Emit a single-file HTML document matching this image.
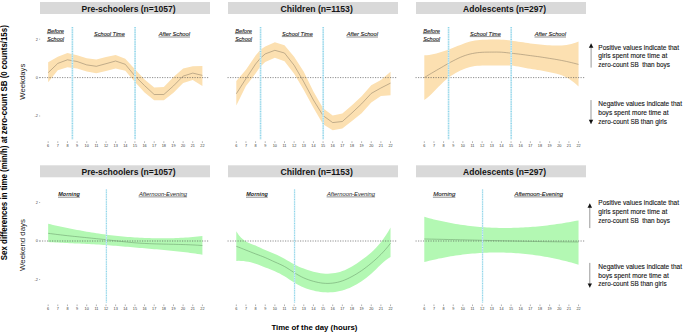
<!DOCTYPE html>
<html><head><meta charset="utf-8"><style>
html,body{margin:0;padding:0;background:#fff;}
body{width:685px;height:332px;overflow:hidden;position:relative;font-family:"Liberation Sans",sans-serif;}
svg{position:absolute;left:0;top:0;}
text{font-family:"Liberation Sans",sans-serif;}
.tk{font-size:3.8px;fill:#3a3a3a;text-anchor:middle;}
.yl{font-size:3.9px;fill:#444;text-anchor:end;}
.ttl{font-size:8.8px;font-weight:bold;fill:#151515;}
.it{font-size:6.0px;font-style:italic;fill:#1a1a1a;stroke:#1a1a1a;stroke-width:0.12;}
.itb{font-size:6px;font-weight:bold;font-style:italic;fill:#222;}
.itr{font-size:6px;font-style:italic;fill:#222;}
.an{font-size:6.8px;fill:#111;stroke:#111;stroke-width:0.1;}
.ax{font-size:7.8px;font-weight:bold;fill:#000;}
.lab{font-size:7.8px;fill:#222;}
</style></head><body>
<svg width="685" height="332" viewBox="0 0 685 332">
<rect x="40" y="2.0" width="170" height="12" fill="#d9d9d9"/>
<rect x="228" y="2.0" width="170" height="12" fill="#d9d9d9"/>
<rect x="416" y="2.0" width="170" height="12" fill="#d9d9d9"/>
<rect x="40" y="165.3" width="170" height="12" fill="#d9d9d9"/>
<rect x="228" y="165.3" width="170" height="12" fill="#d9d9d9"/>
<rect x="416" y="165.3" width="170" height="12" fill="#d9d9d9"/>
<polygon points="48.16,62.20 57.80,56.70 67.44,53.10 77.08,55.20 86.72,58.20 96.36,59.40 106.00,57.00 115.64,55.00 125.28,58.80 134.92,69.20 144.56,79.60 154.20,87.40 163.84,87.00 173.48,76.90 183.12,68.60 192.76,66.30 202.40,65.90 202.40,85.90 192.76,79.90 183.12,82.90 173.48,92.70 163.84,100.20 154.20,100.20 144.56,92.40 134.92,82.00 125.28,70.80 115.64,68.50 106.00,70.90 96.36,73.30 86.72,71.50 77.08,68.50 67.44,67.30 57.80,70.30 48.16,82.30" fill="#fce0b1"/>
<polygon points="236.30,81.10 245.94,69.70 255.58,55.50 260.40,49.70 265.22,46.40 274.86,42.30 284.50,45.30 294.14,56.80 303.78,71.80 313.42,91.50 323.06,108.30 332.70,115.60 342.34,113.40 351.98,105.30 361.62,96.30 371.26,85.30 380.90,79.90 390.54,71.70 390.54,95.20 380.90,96.10 371.26,102.40 361.62,113.20 351.98,121.10 342.34,128.50 332.70,130.30 323.06,124.20 313.42,107.80 303.78,90.00 294.14,73.80 284.50,61.30 274.86,57.80 265.22,62.10 260.40,66.60 255.58,73.40 245.94,85.90 236.30,105.40" fill="#fce0b1"/>
<polygon points="424.30,55.30 426.71,55.21 429.12,54.94 431.53,54.53 433.94,54.00 436.35,53.39 438.76,52.71 441.17,52.01 443.58,51.30 445.99,50.60 448.40,49.80 450.81,48.84 453.22,47.80 455.63,46.80 458.04,45.84 460.45,44.91 462.86,44.00 465.27,43.11 467.68,42.27 470.09,41.52 472.50,40.90 474.91,40.45 477.32,40.13 479.73,39.93 482.14,39.80 484.55,39.71 486.96,39.66 489.37,39.62 491.78,39.60 494.19,39.58 496.60,39.58 499.01,39.62 501.42,39.70 503.83,39.85 506.24,40.05 508.65,40.31 511.06,40.60 513.47,40.92 515.88,41.27 518.29,41.63 520.70,42.00 523.11,42.37 525.52,42.73 527.93,43.07 530.34,43.40 532.75,43.71 535.16,43.99 537.57,44.26 539.98,44.50 542.39,44.73 544.80,44.94 547.21,45.13 549.62,45.30 552.03,45.45 554.44,45.57 556.85,45.62 559.26,45.60 561.67,45.48 564.08,45.27 566.49,44.94 568.90,44.50 571.31,43.94 573.72,43.26 576.13,42.45 578.54,41.50 578.54,86.50 576.13,84.23 573.72,82.19 571.31,80.39 568.90,78.80 566.49,77.42 564.08,76.23 561.67,75.23 559.26,74.40 556.85,73.73 554.44,73.16 552.03,72.67 549.62,72.20 547.21,71.71 544.80,71.22 542.39,70.74 539.98,70.30 537.57,69.91 535.16,69.54 532.75,69.18 530.34,68.80 527.93,68.38 525.52,67.93 523.11,67.46 520.70,67.00 518.29,66.56 515.88,66.15 513.47,65.83 511.06,65.60 508.65,65.49 506.24,65.46 503.83,65.48 501.42,65.50 499.01,65.49 496.60,65.45 494.19,65.42 491.78,65.40 489.37,65.42 486.96,65.46 484.55,65.53 482.14,65.60 479.73,65.68 477.32,65.81 474.91,66.04 472.50,66.40 470.09,66.94 467.68,67.65 465.27,68.51 462.86,69.50 460.45,70.60 458.04,71.80 455.63,73.10 453.22,74.50 450.81,76.01 448.40,77.70 445.99,79.64 443.58,81.80 441.17,84.13 438.76,86.56 436.35,89.04 433.94,91.50 431.53,93.89 429.12,96.14 426.71,98.20 424.30,100.00" fill="#fce0b1"/>
<polygon points="48.16,223.80 50.57,224.35 52.98,224.89 55.39,225.42 57.80,225.95 60.21,226.47 62.62,226.98 65.03,227.49 67.44,227.99 69.85,228.48 72.26,228.96 74.67,229.44 77.08,229.90 79.49,230.35 81.90,230.80 84.31,231.23 86.72,231.65 89.13,232.07 91.54,232.47 93.95,232.85 96.36,233.23 98.77,233.59 101.18,233.94 103.59,234.28 106.00,234.60 108.41,234.91 110.82,235.20 113.23,235.48 115.64,235.75 118.05,236.00 120.46,236.24 122.87,236.47 125.28,236.68 127.69,236.88 130.10,237.06 132.51,237.24 134.92,237.40 137.33,237.55 139.74,237.69 142.15,237.81 144.56,237.92 146.97,238.02 149.38,238.10 151.79,238.17 154.20,238.22 156.61,238.27 159.02,238.29 161.43,238.30 163.84,238.30 166.25,238.28 168.66,238.25 171.07,238.20 173.48,238.13 175.89,238.05 178.30,237.95 180.71,237.83 183.12,237.70 185.53,237.55 187.94,237.38 190.35,237.20 192.76,237.00 195.17,236.78 197.58,236.54 199.99,236.28 202.40,236.00 202.40,254.70 199.99,254.32 197.58,253.95 195.17,253.60 192.76,253.26 190.35,252.93 187.94,252.61 185.53,252.31 183.12,252.02 180.71,251.74 178.30,251.46 175.89,251.20 173.48,250.95 171.07,250.70 168.66,250.46 166.25,250.23 163.84,250.00 161.43,249.78 159.02,249.56 156.61,249.35 154.20,249.14 151.79,248.93 149.38,248.72 146.97,248.52 144.56,248.32 142.15,248.11 139.74,247.91 137.33,247.71 134.92,247.50 132.51,247.29 130.10,247.08 127.69,246.87 125.28,246.66 122.87,246.45 120.46,246.24 118.05,246.04 115.64,245.84 113.23,245.65 110.82,245.46 108.41,245.27 106.00,245.10 103.59,244.93 101.18,244.78 98.77,244.62 96.36,244.48 93.95,244.34 91.54,244.21 89.13,244.08 86.72,243.96 84.31,243.84 81.90,243.72 79.49,243.61 77.08,243.50 74.67,243.39 72.26,243.28 69.85,243.17 67.44,243.06 65.03,242.95 62.62,242.84 60.21,242.73 57.80,242.61 55.39,242.49 52.98,242.36 50.57,242.23 48.16,242.10" fill="#b3f8b3"/>
<polygon points="236.30,231.30 238.71,234.90 241.12,237.71 243.53,239.86 245.94,241.50 248.35,242.75 250.76,243.76 253.17,244.67 255.58,245.60 257.99,246.67 260.40,247.82 262.81,248.99 265.22,250.10 267.63,251.09 270.04,252.01 272.45,252.93 274.86,253.90 277.27,254.98 279.68,256.17 282.09,257.45 284.50,258.80 286.91,260.20 289.32,261.61 291.73,262.99 294.14,264.30 296.55,265.51 298.96,266.63 301.37,267.65 303.78,268.60 306.19,269.48 308.60,270.29 311.01,271.03 313.42,271.70 315.83,272.30 318.24,272.81 320.65,273.22 323.06,273.50 325.47,273.64 327.88,273.65 330.29,273.53 332.70,273.30 335.11,272.96 337.52,272.49 339.93,271.88 342.34,271.10 344.75,270.14 347.16,269.02 349.57,267.77 351.98,266.40 354.39,264.95 356.80,263.41 359.21,261.79 361.62,260.10 364.03,258.33 366.44,256.47 368.85,254.50 371.26,252.40 373.67,250.16 376.08,247.73 378.49,245.09 380.90,242.20 383.31,239.02 385.72,235.52 388.13,231.66 390.54,227.40 390.54,256.90 388.13,258.39 385.72,260.20 383.31,262.26 380.90,264.50 378.49,266.85 376.08,269.23 373.67,271.57 371.26,273.80 368.85,275.86 366.44,277.77 364.03,279.54 361.62,281.20 359.21,282.76 356.80,284.23 354.39,285.58 351.98,286.80 349.57,287.89 347.16,288.84 344.75,289.68 342.34,290.40 339.93,291.01 337.52,291.52 335.11,291.92 332.70,292.20 330.29,292.37 327.88,292.42 325.47,292.36 323.06,292.20 320.65,291.93 318.24,291.57 315.83,291.13 313.42,290.60 311.01,290.00 308.60,289.31 306.19,288.52 303.78,287.60 301.37,286.55 298.96,285.36 296.55,284.04 294.14,282.60 291.73,281.05 289.32,279.44 286.91,277.83 284.50,276.30 282.09,274.89 279.68,273.59 277.27,272.40 274.86,271.30 272.45,270.28 270.04,269.30 267.63,268.35 265.22,267.40 262.81,266.43 260.40,265.47 257.99,264.55 255.58,263.70 253.17,262.96 250.76,262.33 248.35,261.81 245.94,261.40 243.53,261.10 241.12,260.92 238.71,260.85 236.30,260.90" fill="#b3f8b3"/>
<polygon points="424.30,216.80 426.71,217.48 429.12,218.14 431.53,218.77 433.94,219.39 436.35,219.98 438.76,220.55 441.17,221.09 443.58,221.61 445.99,222.11 448.40,222.59 450.81,223.05 453.22,223.49 455.63,223.90 458.04,224.30 460.45,224.67 462.86,225.02 465.27,225.35 467.68,225.66 470.09,225.95 472.50,226.22 474.91,226.47 477.32,226.70 479.73,226.91 482.14,227.10 484.55,227.27 486.96,227.42 489.37,227.55 491.78,227.67 494.19,227.76 496.60,227.84 499.01,227.89 501.42,227.93 503.83,227.95 506.24,227.96 508.65,227.94 511.06,227.91 513.47,227.86 515.88,227.79 518.29,227.70 520.70,227.60 523.11,227.48 525.52,227.34 527.93,227.19 530.34,227.02 532.75,226.83 535.16,226.63 537.57,226.41 539.98,226.18 542.39,225.93 544.80,225.66 547.21,225.38 549.62,225.09 552.03,224.78 554.44,224.45 556.85,224.11 559.26,223.75 561.67,223.38 564.08,223.00 566.49,222.60 568.90,222.19 571.31,221.76 573.72,221.32 576.13,220.87 578.54,220.40 578.54,264.70 576.13,263.98 573.72,263.29 571.31,262.61 568.90,261.96 566.49,261.33 564.08,260.72 561.67,260.14 559.26,259.57 556.85,259.03 554.44,258.51 552.03,258.01 549.62,257.54 547.21,257.08 544.80,256.65 542.39,256.24 539.98,255.84 537.57,255.48 535.16,255.13 532.75,254.80 530.34,254.50 527.93,254.22 525.52,253.96 523.11,253.72 520.70,253.50 518.29,253.30 515.88,253.13 513.47,252.97 511.06,252.84 508.65,252.73 506.24,252.64 503.83,252.57 501.42,252.52 499.01,252.50 496.60,252.49 494.19,252.51 491.78,252.54 489.37,252.60 486.96,252.68 484.55,252.78 482.14,252.90 479.73,253.04 477.32,253.20 474.91,253.39 472.50,253.59 470.09,253.82 467.68,254.06 465.27,254.33 462.86,254.62 460.45,254.92 458.04,255.25 455.63,255.60 453.22,255.97 450.81,256.36 448.40,256.77 445.99,257.20 443.58,257.65 441.17,258.13 438.76,258.62 436.35,259.13 433.94,259.66 431.53,260.22 429.12,260.79 426.71,261.39 424.30,262.00" fill="#b3f8b3"/>
<line x1="39.5" y1="77.6" x2="209.5" y2="77.6" stroke="#505050" stroke-width="0.65" stroke-dasharray="1.2 1.3"/>
<line x1="48.16" y1="141.29999999999998" x2="48.16" y2="142.9" stroke="#666" stroke-width="0.5"/>
<text x="48.16" y="146.8" class="tk">6</text>
<line x1="57.80" y1="141.29999999999998" x2="57.80" y2="142.9" stroke="#666" stroke-width="0.5"/>
<text x="57.80" y="146.8" class="tk">7</text>
<line x1="67.44" y1="141.29999999999998" x2="67.44" y2="142.9" stroke="#666" stroke-width="0.5"/>
<text x="67.44" y="146.8" class="tk">8</text>
<line x1="77.08" y1="141.29999999999998" x2="77.08" y2="142.9" stroke="#666" stroke-width="0.5"/>
<text x="77.08" y="146.8" class="tk">9</text>
<line x1="86.72" y1="141.29999999999998" x2="86.72" y2="142.9" stroke="#666" stroke-width="0.5"/>
<text x="86.72" y="146.8" class="tk">10</text>
<line x1="96.36" y1="141.29999999999998" x2="96.36" y2="142.9" stroke="#666" stroke-width="0.5"/>
<text x="96.36" y="146.8" class="tk">11</text>
<line x1="106.00" y1="141.29999999999998" x2="106.00" y2="142.9" stroke="#666" stroke-width="0.5"/>
<text x="106.00" y="146.8" class="tk">12</text>
<line x1="115.64" y1="141.29999999999998" x2="115.64" y2="142.9" stroke="#666" stroke-width="0.5"/>
<text x="115.64" y="146.8" class="tk">13</text>
<line x1="125.28" y1="141.29999999999998" x2="125.28" y2="142.9" stroke="#666" stroke-width="0.5"/>
<text x="125.28" y="146.8" class="tk">14</text>
<line x1="134.92" y1="141.29999999999998" x2="134.92" y2="142.9" stroke="#666" stroke-width="0.5"/>
<text x="134.92" y="146.8" class="tk">15</text>
<line x1="144.56" y1="141.29999999999998" x2="144.56" y2="142.9" stroke="#666" stroke-width="0.5"/>
<text x="144.56" y="146.8" class="tk">16</text>
<line x1="154.20" y1="141.29999999999998" x2="154.20" y2="142.9" stroke="#666" stroke-width="0.5"/>
<text x="154.20" y="146.8" class="tk">17</text>
<line x1="163.84" y1="141.29999999999998" x2="163.84" y2="142.9" stroke="#666" stroke-width="0.5"/>
<text x="163.84" y="146.8" class="tk">18</text>
<line x1="173.48" y1="141.29999999999998" x2="173.48" y2="142.9" stroke="#666" stroke-width="0.5"/>
<text x="173.48" y="146.8" class="tk">19</text>
<line x1="183.12" y1="141.29999999999998" x2="183.12" y2="142.9" stroke="#666" stroke-width="0.5"/>
<text x="183.12" y="146.8" class="tk">20</text>
<line x1="192.76" y1="141.29999999999998" x2="192.76" y2="142.9" stroke="#666" stroke-width="0.5"/>
<text x="192.76" y="146.8" class="tk">21</text>
<line x1="202.40" y1="141.29999999999998" x2="202.40" y2="142.9" stroke="#666" stroke-width="0.5"/>
<text x="202.40" y="146.8" class="tk">22</text>
<line x1="227.5" y1="77.6" x2="397.5" y2="77.6" stroke="#505050" stroke-width="0.65" stroke-dasharray="1.2 1.3"/>
<line x1="236.30" y1="141.29999999999998" x2="236.30" y2="142.9" stroke="#666" stroke-width="0.5"/>
<text x="236.30" y="146.8" class="tk">6</text>
<line x1="245.94" y1="141.29999999999998" x2="245.94" y2="142.9" stroke="#666" stroke-width="0.5"/>
<text x="245.94" y="146.8" class="tk">7</text>
<line x1="255.58" y1="141.29999999999998" x2="255.58" y2="142.9" stroke="#666" stroke-width="0.5"/>
<text x="255.58" y="146.8" class="tk">8</text>
<line x1="265.22" y1="141.29999999999998" x2="265.22" y2="142.9" stroke="#666" stroke-width="0.5"/>
<text x="265.22" y="146.8" class="tk">9</text>
<line x1="274.86" y1="141.29999999999998" x2="274.86" y2="142.9" stroke="#666" stroke-width="0.5"/>
<text x="274.86" y="146.8" class="tk">10</text>
<line x1="284.50" y1="141.29999999999998" x2="284.50" y2="142.9" stroke="#666" stroke-width="0.5"/>
<text x="284.50" y="146.8" class="tk">11</text>
<line x1="294.14" y1="141.29999999999998" x2="294.14" y2="142.9" stroke="#666" stroke-width="0.5"/>
<text x="294.14" y="146.8" class="tk">12</text>
<line x1="303.78" y1="141.29999999999998" x2="303.78" y2="142.9" stroke="#666" stroke-width="0.5"/>
<text x="303.78" y="146.8" class="tk">13</text>
<line x1="313.42" y1="141.29999999999998" x2="313.42" y2="142.9" stroke="#666" stroke-width="0.5"/>
<text x="313.42" y="146.8" class="tk">14</text>
<line x1="323.06" y1="141.29999999999998" x2="323.06" y2="142.9" stroke="#666" stroke-width="0.5"/>
<text x="323.06" y="146.8" class="tk">15</text>
<line x1="332.70" y1="141.29999999999998" x2="332.70" y2="142.9" stroke="#666" stroke-width="0.5"/>
<text x="332.70" y="146.8" class="tk">16</text>
<line x1="342.34" y1="141.29999999999998" x2="342.34" y2="142.9" stroke="#666" stroke-width="0.5"/>
<text x="342.34" y="146.8" class="tk">17</text>
<line x1="351.98" y1="141.29999999999998" x2="351.98" y2="142.9" stroke="#666" stroke-width="0.5"/>
<text x="351.98" y="146.8" class="tk">18</text>
<line x1="361.62" y1="141.29999999999998" x2="361.62" y2="142.9" stroke="#666" stroke-width="0.5"/>
<text x="361.62" y="146.8" class="tk">19</text>
<line x1="371.26" y1="141.29999999999998" x2="371.26" y2="142.9" stroke="#666" stroke-width="0.5"/>
<text x="371.26" y="146.8" class="tk">20</text>
<line x1="380.90" y1="141.29999999999998" x2="380.90" y2="142.9" stroke="#666" stroke-width="0.5"/>
<text x="380.90" y="146.8" class="tk">21</text>
<line x1="390.54" y1="141.29999999999998" x2="390.54" y2="142.9" stroke="#666" stroke-width="0.5"/>
<text x="390.54" y="146.8" class="tk">22</text>
<line x1="415.5" y1="77.6" x2="585.5" y2="77.6" stroke="#505050" stroke-width="0.65" stroke-dasharray="1.2 1.3"/>
<line x1="424.30" y1="141.29999999999998" x2="424.30" y2="142.9" stroke="#666" stroke-width="0.5"/>
<text x="424.30" y="146.8" class="tk">6</text>
<line x1="433.94" y1="141.29999999999998" x2="433.94" y2="142.9" stroke="#666" stroke-width="0.5"/>
<text x="433.94" y="146.8" class="tk">7</text>
<line x1="443.58" y1="141.29999999999998" x2="443.58" y2="142.9" stroke="#666" stroke-width="0.5"/>
<text x="443.58" y="146.8" class="tk">8</text>
<line x1="453.22" y1="141.29999999999998" x2="453.22" y2="142.9" stroke="#666" stroke-width="0.5"/>
<text x="453.22" y="146.8" class="tk">9</text>
<line x1="462.86" y1="141.29999999999998" x2="462.86" y2="142.9" stroke="#666" stroke-width="0.5"/>
<text x="462.86" y="146.8" class="tk">10</text>
<line x1="472.50" y1="141.29999999999998" x2="472.50" y2="142.9" stroke="#666" stroke-width="0.5"/>
<text x="472.50" y="146.8" class="tk">11</text>
<line x1="482.14" y1="141.29999999999998" x2="482.14" y2="142.9" stroke="#666" stroke-width="0.5"/>
<text x="482.14" y="146.8" class="tk">12</text>
<line x1="491.78" y1="141.29999999999998" x2="491.78" y2="142.9" stroke="#666" stroke-width="0.5"/>
<text x="491.78" y="146.8" class="tk">13</text>
<line x1="501.42" y1="141.29999999999998" x2="501.42" y2="142.9" stroke="#666" stroke-width="0.5"/>
<text x="501.42" y="146.8" class="tk">14</text>
<line x1="511.06" y1="141.29999999999998" x2="511.06" y2="142.9" stroke="#666" stroke-width="0.5"/>
<text x="511.06" y="146.8" class="tk">15</text>
<line x1="520.70" y1="141.29999999999998" x2="520.70" y2="142.9" stroke="#666" stroke-width="0.5"/>
<text x="520.70" y="146.8" class="tk">16</text>
<line x1="530.34" y1="141.29999999999998" x2="530.34" y2="142.9" stroke="#666" stroke-width="0.5"/>
<text x="530.34" y="146.8" class="tk">17</text>
<line x1="539.98" y1="141.29999999999998" x2="539.98" y2="142.9" stroke="#666" stroke-width="0.5"/>
<text x="539.98" y="146.8" class="tk">18</text>
<line x1="549.62" y1="141.29999999999998" x2="549.62" y2="142.9" stroke="#666" stroke-width="0.5"/>
<text x="549.62" y="146.8" class="tk">19</text>
<line x1="559.26" y1="141.29999999999998" x2="559.26" y2="142.9" stroke="#666" stroke-width="0.5"/>
<text x="559.26" y="146.8" class="tk">20</text>
<line x1="568.90" y1="141.29999999999998" x2="568.90" y2="142.9" stroke="#666" stroke-width="0.5"/>
<text x="568.90" y="146.8" class="tk">21</text>
<line x1="578.54" y1="141.29999999999998" x2="578.54" y2="142.9" stroke="#666" stroke-width="0.5"/>
<text x="578.54" y="146.8" class="tk">22</text>
<text x="38" y="40.50" class="yl">2</text>
<line x1="39" y1="39.20" x2="40.2" y2="39.20" stroke="#777" stroke-width="0.5"/>
<text x="38" y="78.90" class="yl">0</text>
<line x1="39" y1="77.60" x2="40.2" y2="77.60" stroke="#777" stroke-width="0.5"/>
<text x="38" y="117.30" class="yl">-2</text>
<line x1="39" y1="116.00" x2="40.2" y2="116.00" stroke="#777" stroke-width="0.5"/>
<line x1="39.5" y1="241.0" x2="209.5" y2="241.0" stroke="#505050" stroke-width="0.65" stroke-dasharray="1.2 1.3"/>
<line x1="48.16" y1="304.5" x2="48.16" y2="306.1" stroke="#666" stroke-width="0.5"/>
<text x="48.16" y="310.1" class="tk">6</text>
<line x1="57.80" y1="304.5" x2="57.80" y2="306.1" stroke="#666" stroke-width="0.5"/>
<text x="57.80" y="310.1" class="tk">7</text>
<line x1="67.44" y1="304.5" x2="67.44" y2="306.1" stroke="#666" stroke-width="0.5"/>
<text x="67.44" y="310.1" class="tk">8</text>
<line x1="77.08" y1="304.5" x2="77.08" y2="306.1" stroke="#666" stroke-width="0.5"/>
<text x="77.08" y="310.1" class="tk">9</text>
<line x1="86.72" y1="304.5" x2="86.72" y2="306.1" stroke="#666" stroke-width="0.5"/>
<text x="86.72" y="310.1" class="tk">10</text>
<line x1="96.36" y1="304.5" x2="96.36" y2="306.1" stroke="#666" stroke-width="0.5"/>
<text x="96.36" y="310.1" class="tk">11</text>
<line x1="106.00" y1="304.5" x2="106.00" y2="306.1" stroke="#666" stroke-width="0.5"/>
<text x="106.00" y="310.1" class="tk">12</text>
<line x1="115.64" y1="304.5" x2="115.64" y2="306.1" stroke="#666" stroke-width="0.5"/>
<text x="115.64" y="310.1" class="tk">13</text>
<line x1="125.28" y1="304.5" x2="125.28" y2="306.1" stroke="#666" stroke-width="0.5"/>
<text x="125.28" y="310.1" class="tk">14</text>
<line x1="134.92" y1="304.5" x2="134.92" y2="306.1" stroke="#666" stroke-width="0.5"/>
<text x="134.92" y="310.1" class="tk">15</text>
<line x1="144.56" y1="304.5" x2="144.56" y2="306.1" stroke="#666" stroke-width="0.5"/>
<text x="144.56" y="310.1" class="tk">16</text>
<line x1="154.20" y1="304.5" x2="154.20" y2="306.1" stroke="#666" stroke-width="0.5"/>
<text x="154.20" y="310.1" class="tk">17</text>
<line x1="163.84" y1="304.5" x2="163.84" y2="306.1" stroke="#666" stroke-width="0.5"/>
<text x="163.84" y="310.1" class="tk">18</text>
<line x1="173.48" y1="304.5" x2="173.48" y2="306.1" stroke="#666" stroke-width="0.5"/>
<text x="173.48" y="310.1" class="tk">19</text>
<line x1="183.12" y1="304.5" x2="183.12" y2="306.1" stroke="#666" stroke-width="0.5"/>
<text x="183.12" y="310.1" class="tk">20</text>
<line x1="192.76" y1="304.5" x2="192.76" y2="306.1" stroke="#666" stroke-width="0.5"/>
<text x="192.76" y="310.1" class="tk">21</text>
<line x1="202.40" y1="304.5" x2="202.40" y2="306.1" stroke="#666" stroke-width="0.5"/>
<text x="202.40" y="310.1" class="tk">22</text>
<line x1="227.5" y1="241.0" x2="397.5" y2="241.0" stroke="#505050" stroke-width="0.65" stroke-dasharray="1.2 1.3"/>
<line x1="236.30" y1="304.5" x2="236.30" y2="306.1" stroke="#666" stroke-width="0.5"/>
<text x="236.30" y="310.1" class="tk">6</text>
<line x1="245.94" y1="304.5" x2="245.94" y2="306.1" stroke="#666" stroke-width="0.5"/>
<text x="245.94" y="310.1" class="tk">7</text>
<line x1="255.58" y1="304.5" x2="255.58" y2="306.1" stroke="#666" stroke-width="0.5"/>
<text x="255.58" y="310.1" class="tk">8</text>
<line x1="265.22" y1="304.5" x2="265.22" y2="306.1" stroke="#666" stroke-width="0.5"/>
<text x="265.22" y="310.1" class="tk">9</text>
<line x1="274.86" y1="304.5" x2="274.86" y2="306.1" stroke="#666" stroke-width="0.5"/>
<text x="274.86" y="310.1" class="tk">10</text>
<line x1="284.50" y1="304.5" x2="284.50" y2="306.1" stroke="#666" stroke-width="0.5"/>
<text x="284.50" y="310.1" class="tk">11</text>
<line x1="294.14" y1="304.5" x2="294.14" y2="306.1" stroke="#666" stroke-width="0.5"/>
<text x="294.14" y="310.1" class="tk">12</text>
<line x1="303.78" y1="304.5" x2="303.78" y2="306.1" stroke="#666" stroke-width="0.5"/>
<text x="303.78" y="310.1" class="tk">13</text>
<line x1="313.42" y1="304.5" x2="313.42" y2="306.1" stroke="#666" stroke-width="0.5"/>
<text x="313.42" y="310.1" class="tk">14</text>
<line x1="323.06" y1="304.5" x2="323.06" y2="306.1" stroke="#666" stroke-width="0.5"/>
<text x="323.06" y="310.1" class="tk">15</text>
<line x1="332.70" y1="304.5" x2="332.70" y2="306.1" stroke="#666" stroke-width="0.5"/>
<text x="332.70" y="310.1" class="tk">16</text>
<line x1="342.34" y1="304.5" x2="342.34" y2="306.1" stroke="#666" stroke-width="0.5"/>
<text x="342.34" y="310.1" class="tk">17</text>
<line x1="351.98" y1="304.5" x2="351.98" y2="306.1" stroke="#666" stroke-width="0.5"/>
<text x="351.98" y="310.1" class="tk">18</text>
<line x1="361.62" y1="304.5" x2="361.62" y2="306.1" stroke="#666" stroke-width="0.5"/>
<text x="361.62" y="310.1" class="tk">19</text>
<line x1="371.26" y1="304.5" x2="371.26" y2="306.1" stroke="#666" stroke-width="0.5"/>
<text x="371.26" y="310.1" class="tk">20</text>
<line x1="380.90" y1="304.5" x2="380.90" y2="306.1" stroke="#666" stroke-width="0.5"/>
<text x="380.90" y="310.1" class="tk">21</text>
<line x1="390.54" y1="304.5" x2="390.54" y2="306.1" stroke="#666" stroke-width="0.5"/>
<text x="390.54" y="310.1" class="tk">22</text>
<line x1="415.5" y1="241.0" x2="585.5" y2="241.0" stroke="#505050" stroke-width="0.65" stroke-dasharray="1.2 1.3"/>
<line x1="424.30" y1="304.5" x2="424.30" y2="306.1" stroke="#666" stroke-width="0.5"/>
<text x="424.30" y="310.1" class="tk">6</text>
<line x1="433.94" y1="304.5" x2="433.94" y2="306.1" stroke="#666" stroke-width="0.5"/>
<text x="433.94" y="310.1" class="tk">7</text>
<line x1="443.58" y1="304.5" x2="443.58" y2="306.1" stroke="#666" stroke-width="0.5"/>
<text x="443.58" y="310.1" class="tk">8</text>
<line x1="453.22" y1="304.5" x2="453.22" y2="306.1" stroke="#666" stroke-width="0.5"/>
<text x="453.22" y="310.1" class="tk">9</text>
<line x1="462.86" y1="304.5" x2="462.86" y2="306.1" stroke="#666" stroke-width="0.5"/>
<text x="462.86" y="310.1" class="tk">10</text>
<line x1="472.50" y1="304.5" x2="472.50" y2="306.1" stroke="#666" stroke-width="0.5"/>
<text x="472.50" y="310.1" class="tk">11</text>
<line x1="482.14" y1="304.5" x2="482.14" y2="306.1" stroke="#666" stroke-width="0.5"/>
<text x="482.14" y="310.1" class="tk">12</text>
<line x1="491.78" y1="304.5" x2="491.78" y2="306.1" stroke="#666" stroke-width="0.5"/>
<text x="491.78" y="310.1" class="tk">13</text>
<line x1="501.42" y1="304.5" x2="501.42" y2="306.1" stroke="#666" stroke-width="0.5"/>
<text x="501.42" y="310.1" class="tk">14</text>
<line x1="511.06" y1="304.5" x2="511.06" y2="306.1" stroke="#666" stroke-width="0.5"/>
<text x="511.06" y="310.1" class="tk">15</text>
<line x1="520.70" y1="304.5" x2="520.70" y2="306.1" stroke="#666" stroke-width="0.5"/>
<text x="520.70" y="310.1" class="tk">16</text>
<line x1="530.34" y1="304.5" x2="530.34" y2="306.1" stroke="#666" stroke-width="0.5"/>
<text x="530.34" y="310.1" class="tk">17</text>
<line x1="539.98" y1="304.5" x2="539.98" y2="306.1" stroke="#666" stroke-width="0.5"/>
<text x="539.98" y="310.1" class="tk">18</text>
<line x1="549.62" y1="304.5" x2="549.62" y2="306.1" stroke="#666" stroke-width="0.5"/>
<text x="549.62" y="310.1" class="tk">19</text>
<line x1="559.26" y1="304.5" x2="559.26" y2="306.1" stroke="#666" stroke-width="0.5"/>
<text x="559.26" y="310.1" class="tk">20</text>
<line x1="568.90" y1="304.5" x2="568.90" y2="306.1" stroke="#666" stroke-width="0.5"/>
<text x="568.90" y="310.1" class="tk">21</text>
<line x1="578.54" y1="304.5" x2="578.54" y2="306.1" stroke="#666" stroke-width="0.5"/>
<text x="578.54" y="310.1" class="tk">22</text>
<text x="38" y="203.80" class="yl">2</text>
<line x1="39" y1="202.50" x2="40.2" y2="202.50" stroke="#777" stroke-width="0.5"/>
<text x="38" y="242.30" class="yl">0</text>
<line x1="39" y1="241.00" x2="40.2" y2="241.00" stroke="#777" stroke-width="0.5"/>
<text x="38" y="280.80" class="yl">-2</text>
<line x1="39" y1="279.50" x2="40.2" y2="279.50" stroke="#777" stroke-width="0.5"/>
<polyline points="48.16,72.70 57.80,63.40 67.44,59.80 77.08,61.50 86.72,64.90 96.36,66.30 106.00,63.70 115.64,61.00 125.28,64.30 134.92,76.00 144.56,85.60 154.20,94.50 163.84,94.50 173.48,85.90 183.12,76.10 192.76,73.10 202.40,75.40" fill="none" stroke="#8f8068" stroke-width="0.55"/>
<polyline points="236.30,93.80 245.94,78.70 255.58,64.00 260.40,58.20 265.22,53.90 274.86,50.30 284.50,53.00 294.14,65.30 303.78,81.90 313.42,100.00 323.06,115.60 332.70,122.60 342.34,121.50 351.98,112.90 361.62,103.80 371.26,93.40 380.90,88.00 390.54,83.10" fill="none" stroke="#8f8068" stroke-width="0.55"/>
<polyline points="424.30,77.60 426.71,76.11 429.12,74.65 431.53,73.21 433.94,71.80 436.35,70.40 438.76,69.00 441.17,67.61 443.58,66.20 445.99,64.79 448.40,63.40 450.81,62.07 453.22,60.80 455.63,59.57 458.04,58.39 460.45,57.29 462.86,56.30 465.27,55.43 467.68,54.67 470.09,54.03 472.50,53.50 474.91,53.07 477.32,52.73 479.73,52.47 482.14,52.30 484.55,52.20 486.96,52.14 489.37,52.12 491.78,52.10 494.19,52.08 496.60,52.07 499.01,52.10 501.42,52.20 503.83,52.38 506.24,52.63 508.65,52.91 511.06,53.20 513.47,53.48 515.88,53.74 518.29,54.01 520.70,54.30 523.11,54.61 525.52,54.94 527.93,55.27 530.34,55.60 532.75,55.92 535.16,56.24 537.57,56.56 539.98,56.90 542.39,57.26 544.80,57.63 547.21,58.01 549.62,58.40 552.03,58.78 554.44,59.17 556.85,59.57 559.26,60.00 561.67,60.46 564.08,60.94 566.49,61.46 568.90,62.00 571.31,62.57 573.72,63.16 576.13,63.77 578.54,64.40" fill="none" stroke="#8f8068" stroke-width="0.55"/>
<polyline points="48.16,233.30 50.57,233.63 52.98,233.95 55.39,234.26 57.80,234.56 60.21,234.85 62.62,235.13 65.03,235.41 67.44,235.68 69.85,235.94 72.26,236.20 74.67,236.45 77.08,236.70 79.49,236.95 81.90,237.19 84.31,237.43 86.72,237.68 89.13,237.92 91.54,238.17 93.95,238.41 96.36,238.66 98.77,238.91 101.18,239.17 103.59,239.43 106.00,239.70 108.41,239.97 110.82,240.25 113.23,240.53 115.64,240.81 118.05,241.09 120.46,241.37 122.87,241.63 125.28,241.89 127.69,242.14 130.10,242.38 132.51,242.60 134.92,242.80 137.33,242.98 139.74,243.15 142.15,243.30 144.56,243.43 146.97,243.55 149.38,243.66 151.79,243.75 154.20,243.84 156.61,243.91 159.02,243.98 161.43,244.04 163.84,244.10 166.25,244.15 168.66,244.21 171.07,244.26 173.48,244.31 175.89,244.37 178.30,244.43 180.71,244.49 183.12,244.56 185.53,244.64 187.94,244.72 190.35,244.82 192.76,244.93 195.17,245.05 197.58,245.18 199.99,245.33 202.40,245.50" fill="none" stroke="#6a9a6a" stroke-width="0.55"/>
<polyline points="236.30,246.30 238.71,247.22 241.12,248.17 243.53,249.13 245.94,250.10 248.35,251.07 250.76,252.03 253.17,252.98 255.58,253.90 257.99,254.80 260.40,255.69 262.81,256.62 265.22,257.60 267.63,258.66 270.04,259.77 272.45,260.90 274.86,262.00 277.27,263.06 279.68,264.12 282.09,265.25 284.50,266.50 286.91,267.92 289.32,269.45 291.73,271.03 294.14,272.60 296.55,274.09 298.96,275.48 301.37,276.75 303.78,277.90 306.19,278.92 308.60,279.81 311.01,280.60 313.42,281.30 315.83,281.92 318.24,282.46 320.65,282.89 323.06,283.20 325.47,283.37 327.88,283.41 330.29,283.32 332.70,283.10 335.11,282.76 337.52,282.28 339.93,281.66 342.34,280.90 344.75,279.98 347.16,278.93 349.57,277.76 351.98,276.50 354.39,275.16 356.80,273.73 359.21,272.21 361.62,270.60 364.03,268.88 366.44,267.07 368.85,265.17 371.26,263.20 373.67,261.15 376.08,259.02 378.49,256.77 380.90,254.40 383.31,251.88 385.72,249.18 388.13,246.30 390.54,243.20" fill="none" stroke="#6a9a6a" stroke-width="0.55"/>
<polyline points="424.30,239.00 426.71,239.04 429.12,239.09 431.53,239.14 433.94,239.18 436.35,239.23 438.76,239.28 441.17,239.33 443.58,239.39 445.99,239.44 448.40,239.49 450.81,239.55 453.22,239.60 455.63,239.66 458.04,239.72 460.45,239.77 462.86,239.83 465.27,239.89 467.68,239.95 470.09,240.00 472.50,240.06 474.91,240.12 477.32,240.18 479.73,240.24 482.14,240.30 484.55,240.36 486.96,240.42 489.37,240.48 491.78,240.54 494.19,240.59 496.60,240.65 499.01,240.71 501.42,240.77 503.83,240.82 506.24,240.88 508.65,240.93 511.06,240.99 513.47,241.04 515.88,241.10 518.29,241.15 520.70,241.20 523.11,241.25 525.52,241.30 527.93,241.35 530.34,241.39 532.75,241.44 535.16,241.49 537.57,241.53 539.98,241.57 542.39,241.61 544.80,241.65 547.21,241.69 549.62,241.72 552.03,241.76 554.44,241.79 556.85,241.82 559.26,241.85 561.67,241.87 564.08,241.90 566.49,241.92 568.90,241.94 571.31,241.96 573.72,241.97 576.13,241.99 578.54,242.00" fill="none" stroke="#6a9a6a" stroke-width="0.55"/>
<line x1="72.41" y1="27" x2="72.41" y2="139.6" stroke="#d2edf6" stroke-width="1.7"/><line x1="72.41" y1="27" x2="72.41" y2="139.6" stroke="#55c3e0" stroke-width="1.4" stroke-dasharray="1 1.4" opacity="0.55"/>
<line x1="135.07" y1="27" x2="135.07" y2="139.6" stroke="#d2edf6" stroke-width="1.7"/><line x1="135.07" y1="27" x2="135.07" y2="139.6" stroke="#55c3e0" stroke-width="1.4" stroke-dasharray="1 1.4" opacity="0.55"/>
<line x1="106.40" y1="189.4" x2="106.40" y2="302.8" stroke="#d2edf6" stroke-width="1.4"/><line x1="106.40" y1="189.4" x2="106.40" y2="302.8" stroke="#55c3e0" stroke-width="1.0999999999999999" stroke-dasharray="1 1.4" opacity="0.55"/>
<line x1="260.55" y1="27" x2="260.55" y2="139.6" stroke="#d2edf6" stroke-width="1.7"/><line x1="260.55" y1="27" x2="260.55" y2="139.6" stroke="#55c3e0" stroke-width="1.4" stroke-dasharray="1 1.4" opacity="0.55"/>
<line x1="323.21" y1="27" x2="323.21" y2="139.6" stroke="#d2edf6" stroke-width="1.7"/><line x1="323.21" y1="27" x2="323.21" y2="139.6" stroke="#55c3e0" stroke-width="1.4" stroke-dasharray="1 1.4" opacity="0.55"/>
<line x1="294.54" y1="189.4" x2="294.54" y2="302.8" stroke="#d2edf6" stroke-width="1.4"/><line x1="294.54" y1="189.4" x2="294.54" y2="302.8" stroke="#55c3e0" stroke-width="1.0999999999999999" stroke-dasharray="1 1.4" opacity="0.55"/>
<line x1="448.55" y1="27" x2="448.55" y2="139.6" stroke="#d2edf6" stroke-width="1.7"/><line x1="448.55" y1="27" x2="448.55" y2="139.6" stroke="#55c3e0" stroke-width="1.4" stroke-dasharray="1 1.4" opacity="0.55"/>
<line x1="511.21" y1="27" x2="511.21" y2="139.6" stroke="#d2edf6" stroke-width="1.7"/><line x1="511.21" y1="27" x2="511.21" y2="139.6" stroke="#55c3e0" stroke-width="1.4" stroke-dasharray="1 1.4" opacity="0.55"/>
<line x1="482.54" y1="189.4" x2="482.54" y2="302.8" stroke="#d2edf6" stroke-width="1.4"/><line x1="482.54" y1="189.4" x2="482.54" y2="302.8" stroke="#55c3e0" stroke-width="1.0999999999999999" stroke-dasharray="1 1.4" opacity="0.55"/>
<text x="81.5" y="11.7" class="ttl" textLength="94.1" lengthAdjust="spacingAndGlyphs">Pre-schoolers (n=1057)</text>
<text x="280.5" y="11.7" class="ttl" textLength="72.3" lengthAdjust="spacingAndGlyphs">Children (n=1153)</text>
<text x="463.1" y="11.7" class="ttl" textLength="82.9" lengthAdjust="spacingAndGlyphs">Adolescents (n=297)</text>
<text x="81.5" y="175.0" class="ttl" textLength="94.1" lengthAdjust="spacingAndGlyphs">Pre-schoolers (n=1057)</text>
<text x="280.5" y="175.0" class="ttl" textLength="72.3" lengthAdjust="spacingAndGlyphs">Children (n=1153)</text>
<text x="463.1" y="175.0" class="ttl" textLength="82.9" lengthAdjust="spacingAndGlyphs">Adolescents (n=297)</text>
<text x="47.2" y="32.8" class="it" textLength="16.8" lengthAdjust="spacingAndGlyphs">Before</text>
<line x1="46.9" y1="33.6" x2="64.0" y2="33.6" stroke="#444" stroke-width="0.6"/>
<text x="47.2" y="40.7" class="it" textLength="16.8" lengthAdjust="spacingAndGlyphs">School</text>
<line x1="46.9" y1="41.5" x2="64.0" y2="41.5" stroke="#444" stroke-width="0.6"/>
<text x="94.1" y="35.9" class="it" textLength="30.7" lengthAdjust="spacingAndGlyphs">School Time</text>
<line x1="93.8" y1="36.6" x2="124.8" y2="36.6" stroke="#444" stroke-width="0.6"/>
<text x="158.8" y="36.2" class="it" textLength="31.2" lengthAdjust="spacingAndGlyphs">After School</text>
<line x1="158.5" y1="37.0" x2="190.0" y2="37.0" stroke="#444" stroke-width="0.6"/>
<text x="58.3" y="196.4" class="itb" textLength="21.5" lengthAdjust="spacingAndGlyphs">Morning</text>
<line x1="58.0" y1="197.2" x2="79.8" y2="197.2" stroke="#444" stroke-width="0.6"/>
<text x="138.9" y="196.2" class="itr" textLength="48.2" lengthAdjust="spacingAndGlyphs">Afternoon-Evening</text>
<line x1="138.6" y1="196.9" x2="187.1" y2="196.9" stroke="#444" stroke-width="0.6"/>
<text x="235.2" y="32.8" class="it" textLength="16.8" lengthAdjust="spacingAndGlyphs">Before</text>
<line x1="234.9" y1="33.6" x2="252.0" y2="33.6" stroke="#444" stroke-width="0.6"/>
<text x="235.2" y="40.7" class="it" textLength="16.8" lengthAdjust="spacingAndGlyphs">School</text>
<line x1="234.9" y1="41.5" x2="252.0" y2="41.5" stroke="#444" stroke-width="0.6"/>
<text x="282.1" y="35.9" class="it" textLength="30.7" lengthAdjust="spacingAndGlyphs">School Time</text>
<line x1="281.8" y1="36.6" x2="312.8" y2="36.6" stroke="#444" stroke-width="0.6"/>
<text x="346.8" y="36.2" class="it" textLength="31.2" lengthAdjust="spacingAndGlyphs">After School</text>
<line x1="346.5" y1="37.0" x2="378.0" y2="37.0" stroke="#444" stroke-width="0.6"/>
<text x="246.3" y="196.4" class="itb" textLength="21.5" lengthAdjust="spacingAndGlyphs">Morning</text>
<line x1="246.0" y1="197.2" x2="267.8" y2="197.2" stroke="#444" stroke-width="0.6"/>
<text x="326.9" y="196.2" class="itr" textLength="48.2" lengthAdjust="spacingAndGlyphs">Afternoon-Evening</text>
<line x1="326.6" y1="196.9" x2="375.1" y2="196.9" stroke="#444" stroke-width="0.6"/>
<text x="423.2" y="32.8" class="it" textLength="16.8" lengthAdjust="spacingAndGlyphs">Before</text>
<line x1="422.9" y1="33.6" x2="440.0" y2="33.6" stroke="#444" stroke-width="0.6"/>
<text x="423.2" y="40.7" class="it" textLength="16.8" lengthAdjust="spacingAndGlyphs">School</text>
<line x1="422.9" y1="41.5" x2="440.0" y2="41.5" stroke="#444" stroke-width="0.6"/>
<text x="470.1" y="35.9" class="it" textLength="30.7" lengthAdjust="spacingAndGlyphs">School Time</text>
<line x1="469.8" y1="36.6" x2="500.8" y2="36.6" stroke="#444" stroke-width="0.6"/>
<text x="534.8" y="36.2" class="it" textLength="31.2" lengthAdjust="spacingAndGlyphs">After School</text>
<line x1="534.5" y1="37.0" x2="566.0" y2="37.0" stroke="#444" stroke-width="0.6"/>
<text x="433.2" y="196.4" class="it" textLength="22.2" lengthAdjust="spacingAndGlyphs">Morning</text>
<line x1="432.9" y1="197.2" x2="455.4" y2="197.2" stroke="#444" stroke-width="0.6"/>
<text x="514.5" y="196.2" class="it" textLength="48.4" lengthAdjust="spacingAndGlyphs">Afternoon-Evening</text>
<line x1="514.2" y1="196.9" x2="562.9" y2="196.9" stroke="#444" stroke-width="0.6"/>
<line x1="591.1" y1="43.6" x2="591.1" y2="67.6" stroke="#999" stroke-width="1"/><polygon points="588.8000000000001,47.800000000000004 593.4,47.800000000000004 591.1,43.6" fill="#111"/>
<text x="598.3" y="49.6" class="an" textLength="80.8" lengthAdjust="spacingAndGlyphs">Positive values indicate that</text>
<text x="598.3" y="58.4" class="an" textLength="69" lengthAdjust="spacingAndGlyphs">girls spent more time at</text>
<text x="598.3" y="67.2" class="an" textLength="71.6" lengthAdjust="spacingAndGlyphs">zero-count SB  than boys</text>
<line x1="591.0" y1="100.1" x2="591.0" y2="124.0" stroke="#999" stroke-width="1"/><polygon points="588.8,119.8 593.2,119.8 591.0,124.0" fill="#111"/>
<text x="598.3" y="106.1" class="an" textLength="83.7" lengthAdjust="spacingAndGlyphs">Negative values indicate that</text>
<text x="598.3" y="115.1" class="an" textLength="70.3" lengthAdjust="spacingAndGlyphs">boys spent more time at</text>
<text x="598.3" y="124.0" class="an" textLength="68.7" lengthAdjust="spacingAndGlyphs">zero-count SB than girls</text>
<line x1="589.8" y1="203.6" x2="589.8" y2="228.1" stroke="#999" stroke-width="1"/><polygon points="587.5,207.79999999999998 592.0999999999999,207.79999999999998 589.8,203.6" fill="#111"/>
<text x="598.3" y="204.8" class="an" textLength="80.8" lengthAdjust="spacingAndGlyphs">Positive values indicate that</text>
<text x="598.3" y="213.5" class="an" textLength="69" lengthAdjust="spacingAndGlyphs">girls spent more time at</text>
<text x="598.3" y="222.7" class="an" textLength="71.6" lengthAdjust="spacingAndGlyphs">zero-count SB  than boys</text>
<line x1="589.8" y1="262.9" x2="589.8" y2="287.6" stroke="#999" stroke-width="1"/><polygon points="587.5999999999999,283.40000000000003 592.0,283.40000000000003 589.8,287.6" fill="#111"/>
<text x="598.3" y="268.6" class="an" textLength="83.7" lengthAdjust="spacingAndGlyphs">Negative values indicate that</text>
<text x="598.3" y="277.5" class="an" textLength="70.6" lengthAdjust="spacingAndGlyphs">boys spent more time at</text>
<text x="598.3" y="286.3" class="an" textLength="68.3" lengthAdjust="spacingAndGlyphs">zero-count SB than girls</text>
<text x="271.4" y="329.6" class="ax" style="font-size:8.1px" textLength="86" lengthAdjust="spacingAndGlyphs">Time of the day (hours)</text>
<text transform="translate(7.4,260.2) rotate(-90)" class="ax" style="font-size:8.2px" textLength="235" lengthAdjust="spacingAndGlyphs">Sex differences in time (min/h) at zero-count SB (0 counts/15s)</text>
<text transform="translate(25.3,99.7) rotate(-90)" class="lab" style="font-size:7.9px" textLength="36" lengthAdjust="spacingAndGlyphs">Weekdays</text>
<text transform="translate(25.3,271) rotate(-90)" class="lab" style="font-size:7.9px" textLength="52" lengthAdjust="spacingAndGlyphs">Weekend days</text>
</svg>
</body></html>
